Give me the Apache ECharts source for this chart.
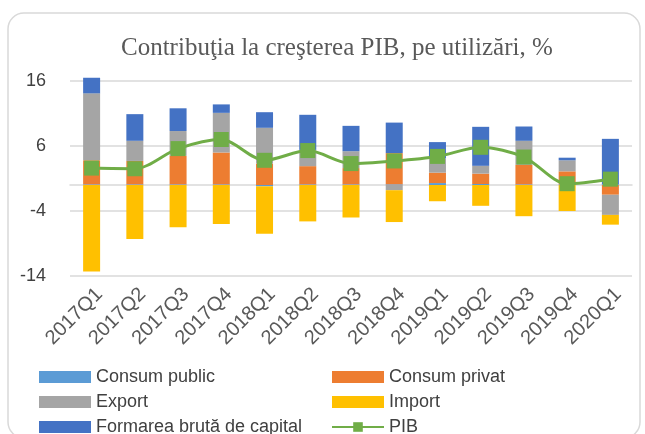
<!DOCTYPE html>
<html>
<head>
	<meta charset="utf-8">
	<title>Contributia la cresterea PIB</title>
	<style>
		* { margin: 0; padding: 0; }
		body { background: #fff; }
		#chart { width: 645px; height: 434px; }
	</style>
	<script src="https://cdn.jsdelivr.net/npm/echarts@6/dist/echarts.min.js"></script>
</head>
<body>
<div id="chart"></div>
<script>
	// data
	var quarters = ['2017Q1', '2017Q2', '2017Q3', '2017Q4', '2018Q1', '2018Q2', '2018Q3',
		'2018Q4', '2019Q1', '2019Q2', '2019Q3', '2019Q4', '2020Q1'];
	var consumPublic = [0.1, 0.1, 0.1, 0.1, -0.2, 0.1, 0.1, 0.1, 0.3, 0.15, 0.1, 0.1, 0.1];
	var consumPrivat = [3.7, 3.6, 4.4, 4.9, 3.3, 2.8, 2.5, 4.8, 1.6, 1.6, 3.0, 2.0, -1.5];
	var exportVals = [10.3, 3.1, 3.8, 6.1, 5.5, 2.5, 2.6, -0.8, 2.2, 1.2, 3.7, 1.7, -3.1];
	var importVals = [-13.3, -8.3, -6.5, -6.0, -7.3, -5.6, -5.0, -4.9, -2.5, -3.2, -4.8, -4.0, -1.5];
	var formarea = [2.4, 4.1, 3.5, 1.3, 2.4, 5.4, 3.9, 4.7, 2.5, 6.0, 2.2, 0.4, 7.0];
	var pib = [2.6, 2.5, 5.6, 7.0, 3.8, 5.3, 3.3, 3.7, 4.4, 5.8, 4.3, 0.2, 0.9];

	var textCol = '#404040';
	var chart = echarts.init(document.getElementById('chart'));

	function barSeries(name, data, color) {
		return {
			name: name,
			type: 'bar',
			stack: 'total',
			barWidth: 17,
			clip: false,
			data: data,
			itemStyle: { color: color },
			emphasis: { disabled: true }
		};
	}

	var legendText = { fontFamily: 'Liberation Sans', fontSize: 18, color: textCol, lineHeight: 17 };

	chart.setOption({
		animation: false,
		title: {
			text: 'Contribuţia la creşterea PIB, pe utilizări, %',
			left: 116,
			top: 31,
			textStyle: { fontFamily: 'Liberation Serif', fontSize: 25, fontWeight: 'normal', color: '#595959' }
		},
		graphic: [{
			type: 'rect',
			shape: { x: 8, y: 13, width: 632, height: 425, r: 16 },
			style: { fill: 'none', stroke: '#d9d9d9', lineWidth: 1.5 },
			z: -10
		}],
		legend: [{
			left: 34, top: 363, height: 90, orient: 'vertical',
			itemWidth: 52, itemHeight: 12, itemGap: 7,
			textStyle: legendText,
			data: [{ name: 'Consum public', icon: 'rect' }, { name: 'Export', icon: 'rect' },
				{ name: 'Formarea brută de capital', icon: 'rect' }]
		}, {
			left: 326, top: 363, height: 90, orient: 'vertical',
			itemWidth: 52, itemHeight: 12, itemGap: 7,
			textStyle: legendText,
			data: [{ name: 'Consum privat', icon: 'rect' }, { name: 'Import', icon: 'rect' }, 'PIB']
		}],
		grid: { left: 70, right: 13, top: 81, height: 195 },
		xAxis: {
			type: 'category',
			data: quarters,
			axisLine: { lineStyle: { color: '#d9d9d9', width: 1.5 } },
			axisTick: { show: false },
			axisLabel: {
				rotate: 45, margin: 23, padding: [0, -11, 0, 0],
				fontFamily: 'Liberation Sans', fontSize: 20, color: '#595959'
			}
		},
		yAxis: {
			type: 'value',
			min: -14, max: 16, interval: 10,
			axisLine: { show: false },
			axisTick: { show: false },
			splitLine: { lineStyle: { color: '#d9d9d9', width: 1.5 } },
			axisLabel: { margin: 24, fontFamily: 'Liberation Sans', fontSize: 18, color: textCol }
		},
		series: [
			barSeries('Consum public', consumPublic, '#5b9bd5'),
			barSeries('Consum privat', consumPrivat, '#ed7d31'),
			barSeries('Export', exportVals, '#a5a5a5'),
			barSeries('Import', importVals, '#ffc000'),
			barSeries('Formarea brută de capital', formarea, '#4472c4'),
			{
				name: 'PIB',
				type: 'line',
				data: pib,
				smooth: 0.3,
				symbol: 'rect',
				symbolSize: 15,
				z: 5,
				lineStyle: { color: '#70ad47', width: 3 },
				itemStyle: { color: '#70ad47' }
			}
		]
	});
</script>
</body>
</html>
